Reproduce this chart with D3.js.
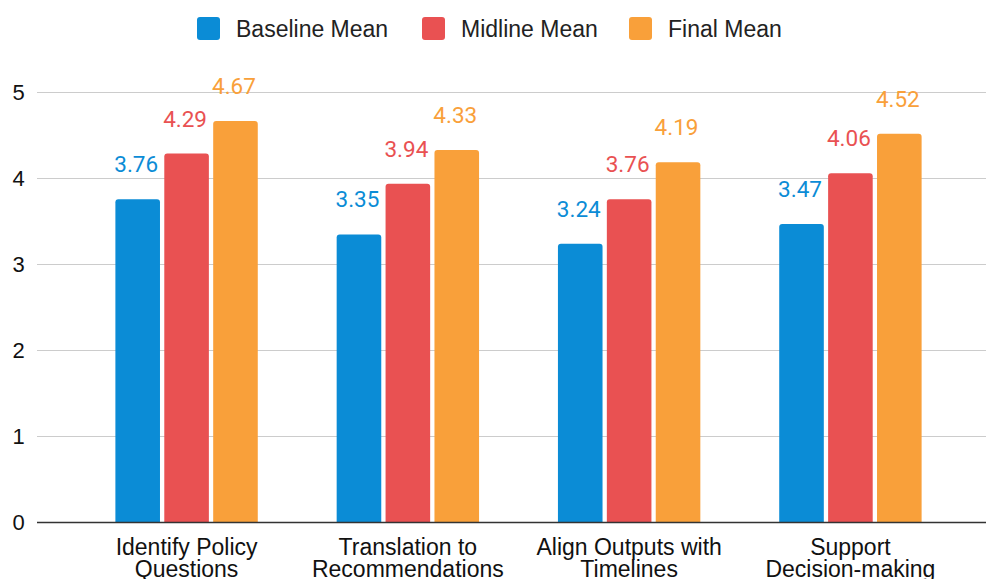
<!DOCTYPE html>
<html><head><meta charset="utf-8">
<script src="https://cdn.jsdelivr.net/npm/d3@7/dist/d3.min.js"></script>
<style>body{margin:0;background:#fff;}svg{display:block;}</style>
</head><body>
<svg id="chart" width="986" height="579"></svg>
<script>
const categories = [["Identify Policy","Questions"],["Translation to","Recommendations"],["Align Outputs with","Timelines"],["Support","Decision-making"]];
const seriesNames = ["Baseline Mean","Midline Mean","Final Mean"];
const baseline = [3.76, 3.35, 3.24, 3.47];
const midline = [4.29, 3.94, 3.76, 4.06];
const finalMean = [4.67, 4.33, 4.19, 4.52];
const yTicks = [0,1,2,3,4,5];
const colors = ["#0B8CD6","#E95152","#F9A03A"];

const svg = d3.select("#chart");
const series = [baseline, midline, finalMean];
const catKeys = categories.map(c => c.join(" "));

const y = d3.scaleLinear().domain([0,5]).range([522.5, 92.5]);
const x0 = d3.scaleBand().domain(catKeys).range([76, 961]).paddingInner(0.3565).paddingOuter(0.178);
const x1 = d3.scaleBand().domain(seriesNames).range([0, x0.bandwidth()]).paddingInner(0.088);

// gridlines
svg.append("g").selectAll("line").data(yTicks.filter(t=>t>0)).join("line")
  .attr("x1",37).attr("x2",986).attr("y1",d=>y(d)).attr("y2",d=>y(d))
  .attr("stroke","#cccccc").attr("stroke-width",1);

// y labels
svg.append("g").selectAll("text").data(yTicks).join("text")
  .attr("x",18.5).attr("y",d=>y(d)+7.5).attr("text-anchor","middle")
  .attr("font-family","Liberation Sans, Arial, sans-serif").attr("font-size",22).attr("fill","#111")
  .text(d=>d);

// bars
const groups = svg.append("g").selectAll("g").data(catKeys).join("g")
  .attr("transform",d=>`translate(${x0(d)},0)`);
groups.each(function(cat, ci){
  const g = d3.select(this);
  seriesNames.forEach((s, si) => {
    const v = series[si][ci];
    const bx = x1(s), bw = x1.bandwidth(), top = y(v), bot = y(0);
    const r = 3;
    g.append("path")
      .attr("d", `M${bx},${bot} L${bx},${top+r} Q${bx},${top} ${bx+r},${top} L${bx+bw-r},${top} Q${bx+bw},${top} ${bx+bw},${top+r} L${bx+bw},${bot} Z`)
      .attr("fill", colors[si]);
    g.append("text").attr("x", bx + bw/2 - 1.5).attr("y", top - 27)
      .attr("text-anchor","middle").attr("font-family","Roboto, sans-serif").attr("font-size",22.5)
      .attr("fill", colors[si]).text(v.toFixed(2));
  });
});

// zero line
svg.append("line").attr("x1",37).attr("x2",986).attr("y1",y(0)).attr("y2",y(0))
  .attr("stroke","#333").attr("stroke-width",1.5);

// x labels
const xl = svg.append("g").selectAll("text").data(categories).join("text")
  .attr("x",(d,i)=>x0(catKeys[i])+x0.bandwidth()/2).attr("y",555)
  .attr("text-anchor","middle").attr("font-family","Liberation Sans, Arial, sans-serif")
  .attr("font-size",23).attr("fill","#111");
xl.each(function(d){
  const t = d3.select(this);
  d.forEach((line,i)=>t.append("tspan").attr("x",t.attr("x")).attr("dy", i===0?0:22.3).text(line));
});

// legend
const legendX = [197, 422, 629];
const lg = svg.append("g").selectAll("g").data(seriesNames).join("g")
  .attr("transform",(d,i)=>`translate(${legendX[i]},17)`);
lg.append("rect").attr("width",23).attr("height",23).attr("rx",3).attr("fill",(d,i)=>colors[i]);
lg.append("text").attr("x",39).attr("y",19.5).attr("font-family","Liberation Sans, Arial, sans-serif")
  .attr("font-size",23).attr("fill","#222").text(d=>d);
</script>
</body></html>
